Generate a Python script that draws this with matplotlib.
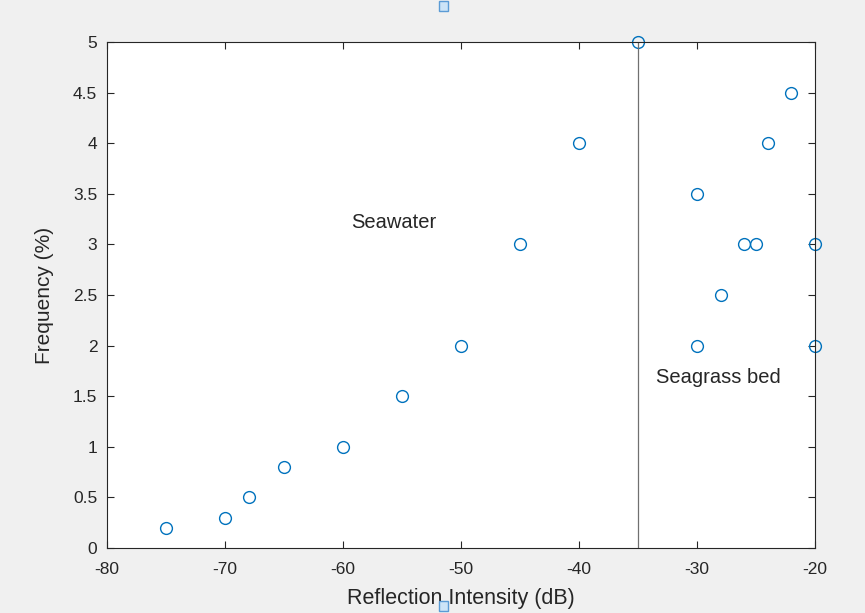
import matplotlib.pyplot as plt
from matplotlib.patches import Rectangle

# reflection intensity (dB) and frequency (%)
intensity = [-75, -70, -68, -65, -60, -55, -50, -45, -40, -35,
             -30, -30, -28, -26, -25, -24, -22, -20, -20]
frequency = [0.2, 0.3, 0.5, 0.8, 1.0, 1.5, 2.0, 3.0, 4.0, 5.0,
             3.5, 2.0, 2.5, 3.0, 3.0, 4.0, 4.5, 3.0, 2.0]
boundary = -35

plt.rcParams['font.family'] = ['Liberation Sans', 'DejaVu Sans']
plt.rcParams['axes.unicode_minus'] = False

fig = plt.figure(figsize=(8.65, 6.13), dpi=100, facecolor='#f0f0f0')
ax = fig.add_axes([0.1237, 0.106, 0.8185, 0.8255])

ax.plot(intensity, frequency, 'o', mfc='none', mec='#0072bd', ms=8.5, mew=1.0,
        clip_on=False)
ax.plot([boundary, boundary], [0, 5], color='#707070', lw=0.9)

ax.text(-55.7, 3.22, 'Seawater', fontsize=14.5, color='#262626',
        ha='center', va='center')
ax.text(-28.2, 1.68, 'Seagrass bed', fontsize=14.5, color='#262626',
        ha='center', va='center')

ax.set_xlim(-80, -20)
ax.set_ylim(0, 5)
ax.set_xticks(range(-80, -19, 10))
ax.set_yticks([i * 0.5 for i in range(11)])
ax.set_yticklabels(['0', '0.5', '1', '1.5', '2', '2.5', '3', '3.5', '4', '4.5', '5'])
ax.tick_params(direction='in', top=True, right=True, labelsize=12.5,
               colors='#262626', length=5, width=0.8)
ax.tick_params(axis='x', pad=10)
ax.tick_params(axis='y', pad=7)
for s in ax.spines.values():
    s.set_color('#262626')
    s.set_linewidth(0.8)

ax.set_xlabel('Reflection Intensity (dB)', fontsize=15.5, color='#262626', va='center')
ax.set_ylabel('Frequency (%)', fontsize=15, color='#262626', va='center')
ax.xaxis.set_label_coords(0.5, -0.099)
ax.yaxis.set_label_coords(-0.088, 0.5)

# editor selection handles
for yy in (0.982, 0.004):
    fig.add_artist(Rectangle((0.507, yy), 0.011, 0.016, transform=fig.transFigure,
                             facecolor='#cce4f7', edgecolor='#5b9bd5', lw=1))

fig.savefig('out.png', dpi=100, facecolor=fig.get_facecolor())
